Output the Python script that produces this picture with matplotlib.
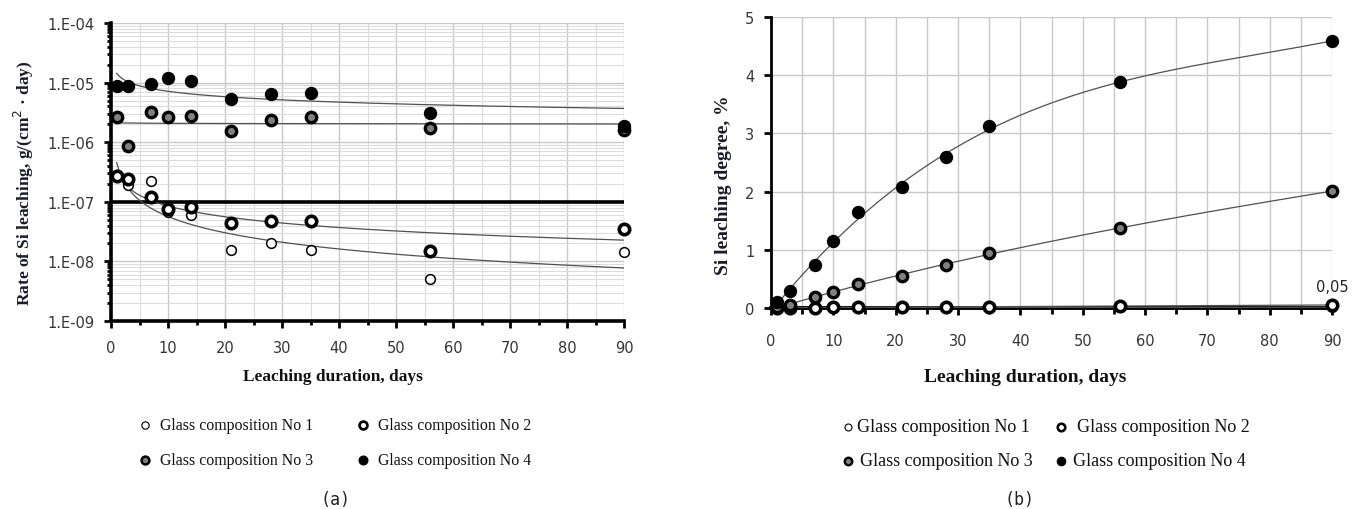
import matplotlib

matplotlib.use('Agg')
import matplotlib.pyplot as plt
from matplotlib.lines import Line2D
from matplotlib.ticker import MultipleLocator, LogLocator, FuncFormatter, NullFormatter
import numpy as np

# leaching durations, days
days = [1, 3, 7, 10, 14, 21, 28, 35, 56, 90]

# rate of Si leaching, g/(cm2*day)
rate_1 = [2.6e-7, 1.9e-7, 2.2e-7, 6.8e-8, 6.0e-8, 1.55e-8, 2.0e-8, 1.55e-8, 5.0e-9, 1.45e-8]
rate_2 = [2.7e-7, 2.4e-7, 1.2e-7, 7.6e-8, 8.1e-8, 4.4e-8, 4.8e-8, 4.8e-8, 1.5e-8, 3.5e-8]
rate_3 = [2.6e-6, 8.7e-7, 3.2e-6, 2.6e-6, 2.8e-6, 1.56e-6, 2.4e-6, 2.6e-6, 1.73e-6, 1.6e-6]
rate_4 = [8.7e-6, 8.7e-6, 9.5e-6, 1.2e-5, 1.07e-5, 5.3e-6, 6.4e-6, 6.7e-6, 3.1e-6, 1.9e-6]

# Si leaching degree, %
degree_1 = [0.001, 0.002, 0.003, 0.004, 0.004, 0.005, 0.006, 0.007, 0.009, 0.012]
degree_2 = [0.002, 0.004, 0.008, 0.010, 0.012, 0.016, 0.020, 0.024, 0.035, 0.05]
degree_3 = [0.02, 0.05, 0.19, 0.28, 0.41, 0.55, 0.74, 0.95, 1.37, 2.01]
degree_4 = [0.10, 0.29, 0.74, 1.15, 1.65, 2.08, 2.59, 3.12, 3.88, 4.59]

labels = ['Glass composition No 1', 'Glass composition No 2',
          'Glass composition No 3', 'Glass composition No 4']

# marker look for each composition
styles = [
    dict(marker='o', ms=7, mfc='white', mec='black', mew=1.1),
    dict(marker='o', ms=7.5, mfc='white', mec='black', mew=2.6),
    dict(marker='o', ms=7.5, mfc='#808080', mec='black', mew=2.4),
    dict(marker='o', ms=8.6, mfc='black', mec='black', mew=1.0),
]

SERIF = 'Liberation Serif'
TICK_COLOR = '#34343c'
W, H = 1354, 510

fig = plt.figure(figsize=(W / 100, H / 100), dpi=100)


def fx(px):
    return px / W


def fy(py):
    return 1 - py / H


# ---------------- (a) rate, log scale ----------------
ax1 = fig.add_axes([fx(111), fy(322), fx(624 - 111), (322 - 24) / H])
ax1.set_yscale('log')
ax1.set_xlim(0, 90)
ax1.set_ylim(1e-9, 1e-4)

ax1.xaxis.set_major_locator(MultipleLocator(10))
ax1.xaxis.set_minor_locator(MultipleLocator(5))
ax1.yaxis.set_major_locator(LogLocator(base=10, numticks=10))
ax1.yaxis.set_minor_locator(LogLocator(base=10, subs=np.arange(2, 10), numticks=10))
ax1.yaxis.set_major_formatter(FuncFormatter(lambda v, p: '1.E-%02d' % round(-np.log10(v))))
ax1.yaxis.set_minor_formatter(NullFormatter())

ax1.grid(True, which='major', color='#c8c8c8', lw=1.0)
ax1.grid(True, which='minor', color='#dcdcdc', lw=0.8)
ax1.set_axisbelow(True)

for side in ['top', 'right']:
    ax1.spines[side].set_visible(False)
ax1.spines['left'].set_linewidth(2.6)
ax1.spines['bottom'].set_linewidth(2.6)
ax1.tick_params(which='both', direction='out', width=2, colors='black',
                labelcolor=TICK_COLOR, labelsize=10.5)
ax1.tick_params(which='major', length=5)
ax1.tick_params(which='minor', length=3)
ax1.tick_params(axis='x', which='major', pad=9)
ax1.tick_params(axis='y', which='major', pad=7)

# the 1.E-07 level line
ax1.axhline(1e-7, color='black', lw=2.6, zorder=2)

# power-law trend lines
xs = np.linspace(1, 90, 200)
for vals in [rate_1, rate_2, rate_3, rate_4]:
    b, a = np.polyfit(np.log(days), np.log(vals), 1)
    ax1.plot(xs, np.exp(a) * xs ** b, color='#505050', lw=0.9, zorder=3)

for vals, st in zip([rate_1, rate_2, rate_3, rate_4], styles):
    ax1.plot(days, vals, ls='none', zorder=4, clip_on=False, **st)

fig.text(fx(24), fy(183), 'Rate of Si leaching, g/(cm$^2$ · day)', rotation=90,
         ha='center', va='center', family=SERIF, weight='bold', fontsize=12.5,
         color='#1a1a2a')
fig.text(fx(333), fy(377), 'Leaching duration, days', ha='center', va='center',
         family=SERIF, weight='bold', fontsize=12.5, color='#111111')

# ---------------- (b) degree, linear ----------------
ax2 = fig.add_axes([fx(771), fy(309), fx(1332 - 771), (309 - 18) / H])
ax2.set_xlim(0, 90)
ax2.set_ylim(0, 5)
ax2.xaxis.set_major_locator(MultipleLocator(10))
ax2.xaxis.set_minor_locator(MultipleLocator(5))
ax2.yaxis.set_major_locator(MultipleLocator(1))

ax2.grid(True, which='both', axis='x', color='#c8c8c8', lw=1.0)
ax2.grid(True, which='major', axis='y', color='#c8c8c8', lw=1.0)
ax2.set_axisbelow(True)

for side in ['top', 'right']:
    ax2.spines[side].set_visible(False)
ax2.spines['left'].set_linewidth(2.0)
ax2.spines['bottom'].set_linewidth(2.8)
ax2.tick_params(which='both', direction='out', width=2, colors='black',
                labelcolor=TICK_COLOR, labelsize=10.5)
ax2.tick_params(which='major', length=5)
ax2.tick_params(which='minor', length=4)
ax2.tick_params(axis='x', which='major', pad=13)
ax2.tick_params(axis='y', which='major', pad=7)

# polynomial trend lines
for vals, deg in zip([degree_1, degree_2, degree_3, degree_4], [1, 1, 3, 3]):
    coef = np.polyfit(days, vals, deg)
    ax2.plot(xs, np.polyval(coef, xs), color='#505050', lw=0.9, zorder=3)

for vals, st in zip([degree_1, degree_2, degree_3, degree_4], styles):
    ax2.plot(days, vals, ls='none', zorder=4, clip_on=False, **st)

ax2.annotate(('%.2f' % degree_2[-1]).replace('.', ','), (days[-1], degree_2[-1]),
             xytext=(0, 8), textcoords='offset points', ha='center', va='bottom',
             fontsize=10.5, color='#222222', annotation_clip=False)

fig.text(fx(723), fy(185), 'Si leaching degree, %', rotation=90, ha='center',
         va='center', family=SERIF, weight='bold', fontsize=14, color='#1a1a2a')
fig.text(fx(1025), fy(377), 'Leaching duration, days', ha='center', va='center',
         family=SERIF, weight='bold', fontsize=14, color='#111111')


# ---------------- legends ----------------
def legend_block(marker_x, text_x, rows_y, fontsize, scale):
    # order: No 1, No 2 on the top row, No 3, No 4 below
    for i, (lab, st) in enumerate(zip(labels, styles)):
        row, col = divmod(i, 2)
        s = dict(st)
        s['ms'] = st['ms'] * scale
        s['mew'] = st['mew'] * scale
        fig.add_artist(Line2D([fx(marker_x[row][col])], [fy(rows_y[row])],
                              transform=fig.transFigure, ls='none', **s))
        fig.text(fx(text_x[row][col]), fy(rows_y[row]), lab, ha='left', va='center',
                 family=SERIF, fontsize=fontsize, color='#111111')


legend_block([[145, 363], [145, 363]], [[160, 378], [160, 378]], [426, 461], 11.4, 0.75)
legend_block([[848, 1061], [848, 1061]], [[857, 1077], [860, 1073]], [428, 462], 13, 0.72)

fig.text(fx(335), fy(500), '(a)', ha='center', va='center', family='DejaVu Sans Mono',
         fontsize=12, color='#222222')
fig.text(fx(1020), fy(500), '(b)', ha='center', va='center', family='DejaVu Sans Mono',
         fontsize=12, color='#222222')

plt.savefig('out.png', dpi=100)
